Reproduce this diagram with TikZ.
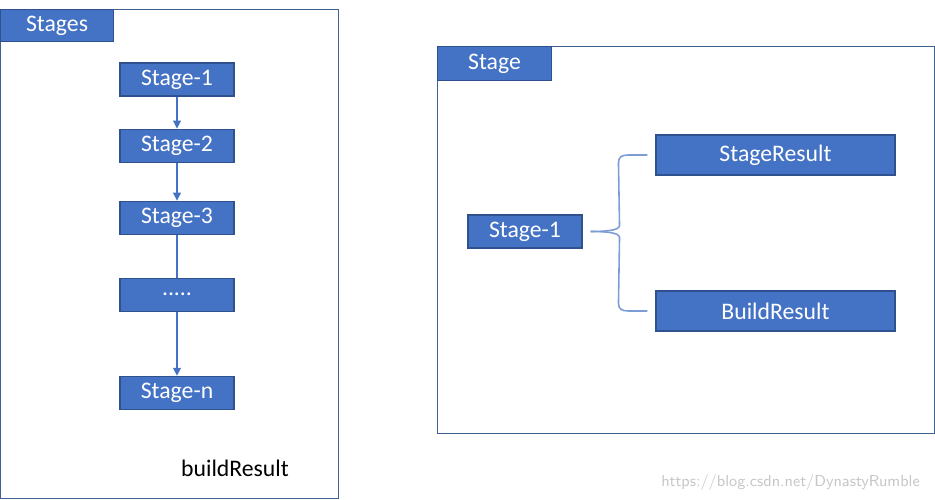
\documentclass[tikz,border=0pt]{standalone}
\usepackage{fontspec}
\setmainfont{Carlito}
\usetikzlibrary{arrows.meta,positioning,calc}
\definecolor{boxblue}{HTML}{4472C4}
\definecolor{boxedge}{HTML}{2F528F}
\definecolor{frameedge}{HTML}{41628F}
\tikzset{
  frm/.style={rectangle,draw=frameedge,line width=0.6pt,anchor=north west,inner sep=0pt},
  ttl/.style={rectangle,draw=boxedge,fill=boxblue,text=white,line width=0.6pt,anchor=north west,minimum width=2.26cm,minimum height=0.64cm,inner sep=0pt,font=\fontsize{13.5}{16}\selectfont},
  stg/.style={rectangle,draw=boxedge,fill=boxblue,text=white,line width=0.6pt,minimum width=2.28cm,minimum height=0.66cm,inner sep=0pt,font=\fontsize{13.5}{16}\selectfont},
  res/.style={stg,minimum width=4.78cm,minimum height=0.8cm},
  arr/.style={-{Triangle[width=4.5pt,length=4.5pt]},draw=boxblue,line width=0.6pt},
  lnk/.style={draw=boxblue,line width=0.6pt},
  brc/.style={draw=boxblue!70,line width=0.9pt},
}
\begin{document}
\begin{tikzpicture}
  \useasboundingbox (0,0) rectangle (18.7,-10);
  % left: the chain of stages
  \node[frm,minimum width=6.76cm,minimum height=9.78cm] (left) at (0,-0.18) {};
  \node[ttl] (stages) at (0,-0.18) {Stages};
  \node[stg] (s1) at (3.54,-1.59) {Stage-1};
  \node[stg,below=0.64cm of s1] (s2) {Stage-2};
  \node[stg,below=0.76cm of s2] (s3) {Stage-3};
  \node[stg,below=0.86cm of s3] (dots) {.....};
  \node[stg,below=1.28cm of dots] (sn) {Stage-n};
  \node[font=\fontsize{13.5}{16}\selectfont] (build) at (4.70,-9.36) {buildResult};
  \draw[arr] (s1) -- (s2);
  \draw[arr] (s2) -- (s3);
  \draw[lnk] (s3) -- (dots);
  \draw[arr] (dots) -- (sn);
  % right: what one stage gives
  \node[frm,minimum width=9.94cm,minimum height=7.74cm] (right) at (8.74,-0.92) {};
  \node[ttl,minimum width=2.28cm,minimum height=0.68cm] (stage) at (8.74,-0.92) {Stage};
  \node[stg] (r1) at (10.5,-4.63) {Stage-1};
  \node[res] (sr) at (15.51,-3.10) {StageResult};
  \node[res] (br) at (15.51,-6.22) {BuildResult};
  \coordinate (tip) at ([xshift=0.16cm]r1.east);
  \coordinate (top) at ([xshift=-0.16cm]sr.west);
  \coordinate (bot) at ([xshift=-0.16cm]br.west);
  \draw[brc] (top) -- ++(-0.38,0) .. controls +(-0.14,0) and +(0,0.12) .. ++(-0.2,-0.16)
    -- ($(tip)+(0.58,0.12)$) .. controls +(0,-0.1) and +(0.3,0) .. (tip);
  \draw[brc] (bot) -- ++(-0.38,0) .. controls +(-0.14,0) and +(0,-0.12) .. ++(-0.2,0.16)
    -- ($(tip)+(0.58,-0.12)$) .. controls +(0,0.1) and +(0.3,0) .. (tip);
  \node[text=gray!45,font=\sffamily\fontsize{9}{10}\selectfont,anchor=east] (mark) at (18.52,-9.66) {https://blog.csdn.net/DynastyRumble};
\end{tikzpicture}
\end{document}
